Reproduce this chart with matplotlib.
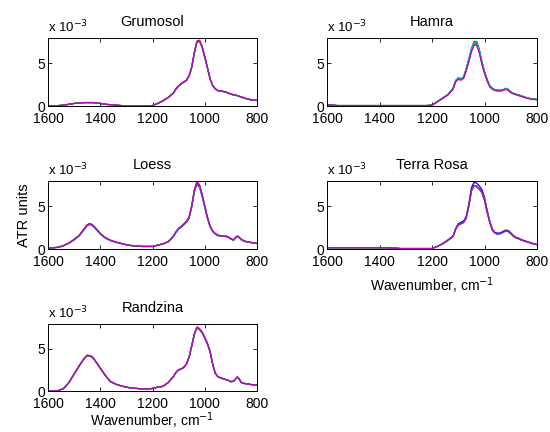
import matplotlib
matplotlib.use("Agg")
import matplotlib.pyplot as plt
import numpy as np

plt.rcParams['font.family'] = ['Liberation Sans', 'DejaVu Sans']

# wavenumber grid, cm-1
wn = [1600, 1580, 1560, 1540, 1520, 1500, 1480, 1460, 1450, 1440, 1430, 1420,
      1400, 1380, 1360, 1340, 1320, 1300, 1280, 1260, 1240, 1220, 1200, 1180,
      1160, 1140, 1120, 1110, 1100, 1090, 1080, 1070, 1060, 1050, 1040, 1030,
      1020, 1010, 1000, 990, 980, 970, 960, 950, 940, 930, 920, 910, 900, 890,
      880, 875, 870, 860, 850, 840, 820, 800]

# absorbance in units of 1e-3
grumosol = [0.0, 0.0, 0.05, 0.1, 0.2, 0.3, 0.35, 0.4, 0.4, 0.4, 0.4, 0.38,
            0.3, 0.2, 0.15, 0.1, 0.05, 0.0, 0.0, 0.0, 0.0, 0.0, 0.05, 0.3,
            0.6, 1.0, 1.5, 2.0, 2.35, 2.6, 2.8, 3.0, 3.5, 4.5, 6.2, 7.5,
            7.6, 6.9, 5.7, 4.5, 3.2, 2.4, 2.0, 1.8, 1.75, 1.7, 1.65, 1.5, 1.4, 1.3,
            1.25, 1.2, 1.15, 1.05, 0.95, 0.85, 0.7, 0.65]
hamra = [0.15, 0.1, 0.05, 0.05, 0.05, 0.05, 0.05, 0.05, 0.05, 0.05, 0.05, 0.05,
         0.05, 0.05, 0.05, 0.05, 0.05, 0.05, 0.05, 0.05, 0.05, 0.05, 0.1, 0.5,
         0.9, 1.3, 2.0, 2.9, 3.2, 3.1, 3.3, 4.2, 5.3, 6.5, 7.3, 7.3,
         6.4, 5.0, 3.9, 3.0, 2.3, 2.0, 1.85, 1.8, 1.8, 1.85, 2.0, 1.9, 1.6, 1.45,
         1.35, 1.3, 1.25, 1.15, 1.05, 0.95, 0.8, 0.75]
loess = [0.1, 0.15, 0.2, 0.4, 0.7, 1.1, 1.6, 2.4, 2.8, 2.95, 2.8, 2.5,
         1.8, 1.3, 1.0, 0.8, 0.65, 0.5, 0.4, 0.35, 0.3, 0.3, 0.3, 0.45,
         0.6, 0.85, 1.5, 2.0, 2.4, 2.6, 2.9, 3.2, 3.7, 5.0, 6.8, 7.8,
         7.4, 6.3, 5.0, 3.7, 2.7, 2.1, 1.8, 1.6, 1.55, 1.5, 1.5, 1.4, 1.2, 1.05,
         1.4, 1.5, 1.4, 1.1, 0.95, 0.85, 0.75, 0.65]
terra_rosa = [0.15, 0.15, 0.15, 0.15, 0.15, 0.15, 0.15, 0.15, 0.15, 0.15, 0.15, 0.15,
              0.15, 0.15, 0.12, 0.1, 0.05, 0.05, 0.05, 0.05, 0.05, 0.05, 0.05, 0.3,
              0.6, 1.0, 1.45, 2.3, 2.8, 2.95, 3.1, 3.6, 5.0, 6.8, 7.4, 7.3,
              7.0, 6.6, 5.7, 4.3, 3.1, 2.2, 1.85, 1.75, 1.8, 1.95, 2.1, 2.05, 1.8, 1.5,
              1.3, 1.25, 1.2, 1.05, 0.95, 0.85, 0.65, 0.5]
randzina = [0.0, 0.0, 0.05, 0.3, 1.0, 2.0, 3.0, 3.9, 4.2, 4.15, 4.0, 3.6,
            2.7, 1.8, 1.1, 0.8, 0.6, 0.45, 0.35, 0.3, 0.25, 0.25, 0.3, 0.45,
            0.55, 1.0, 1.7, 2.2, 2.5, 2.6, 2.8, 3.2, 4.0, 5.3, 6.7, 7.5,
            7.3, 6.9, 6.3, 5.6, 4.7, 3.2, 2.1, 1.7, 1.55, 1.45, 1.35, 1.25, 1.1, 1.15,
            1.5, 1.65, 1.5, 1.0, 0.9, 0.85, 0.75, 0.7]

soils = ["Grumosol", "Hamra", "Loess", "Terra Rosa", "Randzina"]
spectra = [grumosol, hamra, loess, terra_rosa, randzina]
# relative height of each replicate (b, g, r, c, m), read at the main peak
replicate_scale = [
    [1.00, 0.99, 1.01, 0.99, 1.00],
    [1.01, 1.03, 0.99, 1.02, 0.97],
    [0.97, 1.00, 1.01, 0.99, 1.00],
    [1.05, 1.00, 1.00, 0.99, 1.00],
    [1.00, 0.99, 1.01, 1.00, 1.00],
]
rep_colors = ['b', 'g', 'r', 'c', 'm']

fig = plt.figure(figsize=(5.5, 4.32), dpi=100)
positions = [
    [0.0873, 0.7546, 0.380, 0.157],
    [0.5945, 0.7546, 0.382, 0.157],
    [0.0873, 0.4236, 0.380, 0.157],
    [0.5945, 0.4236, 0.382, 0.157],
    [0.0873, 0.0949, 0.380, 0.155],
]

wn_arr = np.array(wn)
for k, name in enumerate(soils):
    ax = fig.add_axes(positions[k])
    y = np.array(spectra[k])
    for s, c in zip(replicate_scale[k], rep_colors):
        ax.plot(wn_arr, y * s, color=c, lw=0.9)
    ax.set_xlim(1600, 800)
    ax.set_ylim(0, 7.9)
    ax.set_xticks([1600, 1400, 1200, 1000, 800])
    ax.set_yticks([0, 5])
    ax.tick_params(direction='in', top=True, right=True, length=3,
                   labelsize=10, width=0.6)
    ax.tick_params(axis='x', pad=4)
    ax.tick_params(axis='y', pad=2)
    for sp in ax.spines.values():
        sp.set_linewidth(0.7)
    ax.set_title(name, fontsize=10.5, pad=9)
    ax.text(0.0, 1.04, r'x 10$^{-3}$', transform=ax.transAxes,
            fontsize=9.5, ha='left', va='bottom')
    if name == "Loess":
        ax.set_ylabel("ATR units", fontsize=10.5, labelpad=5)
    if name == "Terra Rosa":
        ax.set_xlabel(r"Wavenumber, cm$^{-1}$", fontsize=10, labelpad=5)
    if name == "Randzina":
        ax.set_xlabel(r"Wavenumber, cm$^{-1}$", fontsize=10, labelpad=0)

fig.savefig("out.png", dpi=100)
